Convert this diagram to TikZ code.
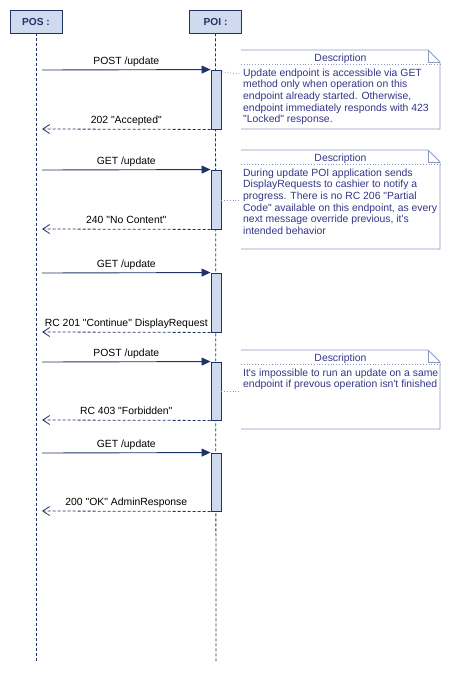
\documentclass[tikz,border=0pt]{standalone}
\usepackage{fontspec}
\setmainfont{Liberation Sans}[Ligatures=TeXOff]
\usetikzlibrary{arrows.meta}
\definecolor{navy}{HTML}{1F3466}
\definecolor{actfill}{HTML}{D0DAEE}
\definecolor{noteline}{HTML}{8C9AC0}
\definecolor{notetext}{HTML}{35358A}
\tikzset{
  head/.style={draw=navy, fill=actfill, line width=0.9pt, minimum width=52pt, minimum height=23pt,
    inner sep=0pt, text=navy, font=\fontsize{10.2}{12}\selectfont\bfseries},
  life/.style={draw=navy, line width=0.8pt, dash pattern=on 3pt off 2pt},
  act/.style={draw=navy, fill=actfill, line width=0.9pt, minimum width=10pt, inner sep=0pt},
  msg/.style={draw=navy, line width=0.9pt, -{Triangle[length=9pt,width=8pt]}},
  ret/.style={draw=navy, line width=0.8pt, dash pattern=on 3pt off 2pt, -{Straight Barb[length=7pt,width=9pt]}},
  lbl/.style={anchor=base, inner sep=0pt, yshift=5.5pt, font=\fontsize{10.4}{12}\selectfont, text=black},
  noteedge/.style={draw=noteline, line width=0.9pt},
  notedot/.style={draw=noteline, line width=0.8pt, dotted},
  notetitle/.style={anchor=base, inner sep=0pt, text=notetext, font=\fontsize{10.4}{12}\selectfont},
  notebody/.style={anchor=north west, inner sep=0pt, align=left, text=notetext,
    font=\fontsize{10.4}{11.7}\selectfont},
}
\begin{document}
\begin{tikzpicture}[x=1pt,y=-1pt]
\useasboundingbox[fill=white] (0,0) rectangle (452,673);
% headers
\node[head] (pos) at (36,21.5) {POS :};
\node[head] (poi) at (215.5,21.5) {POI :};
\coordinate (bot) at (0,662);
\draw[life] (pos.south) -- (pos.south|-bot);
\draw[life] (poi.south) -- (216,662);
% activation bars
\node[act, minimum height=59pt] (a1) at (216,99.5) {};
\node[act, minimum height=59pt] (a2) at (216,199.5) {};
\node[act, minimum height=59pt] (a3) at (216,302.5) {};
\node[act, minimum height=58pt] (a4) at (216,391) {};
\node[act, minimum height=58pt] (a5) at (216,482) {};
% message start / end points
\coordinate (s1) at (42,70);  \coordinate (e1) at (42,129);
\coordinate (s2) at (42,170); \coordinate (e2) at (42,229);
\coordinate (s3) at (42,273); \coordinate (e3) at (42,332);
\coordinate (s4) at (42,362); \coordinate (e4) at (42,420);
\coordinate (s5) at (42,453); \coordinate (e5) at (42,511);
% messages
\draw[msg] (s1) -- (a1.north west) node[lbl, pos=0.5] {POST /update};
\draw[ret] (a1.south west) -- (e1) node[lbl, pos=0.5] {202 "Accepted"};
\draw[msg] (s2) -- (a2.north west) node[lbl, pos=0.5] {GET /update};
\draw[ret] (a2.south west) -- (e2) node[lbl, pos=0.5] {240 "No Content"};
\draw[msg] (s3) -- (a3.north west) node[lbl, pos=0.5] {GET /update};
\draw[ret] (a3.south west) -- (e3) node[lbl, pos=0.5] {RC 201 "Continue" DisplayRequest};
\draw[msg] (s4) -- (a4.north west) node[lbl, pos=0.5] {POST /update};
\draw[ret] (a4.south west) -- (e4) node[lbl, pos=0.5] {RC 403 "Forbidden"};
\draw[msg] (s5) -- (a5.north west) node[lbl, pos=0.5] {GET /update};
\draw[ret] (a5.south west) -- (e5) node[lbl, pos=0.5] {200 "OK" AdminResponse};
% note 1
\draw[noteedge] (241,50) -- (428,50) -- (440,62) -- (440,129) -- (241,129);
\draw[noteedge] (428,50) -- (428,62) -- (440,62);
\draw[notedot] (241,64) -- (440,64);
\node[notetitle] (t1) at (340.5,61.5) {Description};
\node[notebody] (n1) at (243,68.4) {Update endpoint is accessible via GET\\method only when operation on this\\endpoint already started. Otherwise,\\endpoint immediately responds with 423\\"Locked" response.};
\coordinate (c1) at (241,74);
\draw[notedot] (222,72) -- (c1);
% note 2
\draw[noteedge] (241,150) -- (428,150) -- (440,162) -- (440,249) -- (241,249);
\draw[noteedge] (428,150) -- (428,162) -- (440,162);
\draw[notedot] (241,164) -- (440,164);
\node[notetitle] (t2) at (340.5,161.5) {Description};
\node[notebody] (n2) at (243,168.4) {During update POI application sends\\DisplayRequests to cashier to notify a\\progress. There is no RC 206 "Partial\\Code" available on this endpoint, as every\\next message override previous, it's\\intended behavior};
\coordinate (c2) at (241,200);
\draw[notedot] (a2.east|-c2) -- (c2);
% note 3
\draw[noteedge] (241,350) -- (428,350) -- (440,362) -- (440,429) -- (241,429);
\draw[noteedge] (428,350) -- (428,362) -- (440,362);
\draw[notedot] (241,364) -- (440,364);
\node[notetitle] (t3) at (340.5,361.5) {Description};
\node[notebody] (n3) at (243,368.4) {It's impossible to run an update on a same\\endpoint if prevous operation isn't finished};
\coordinate (c3) at (241,391);
\draw[notedot] (a4.east|-c3) -- (c3);
\end{tikzpicture}
\end{document}
